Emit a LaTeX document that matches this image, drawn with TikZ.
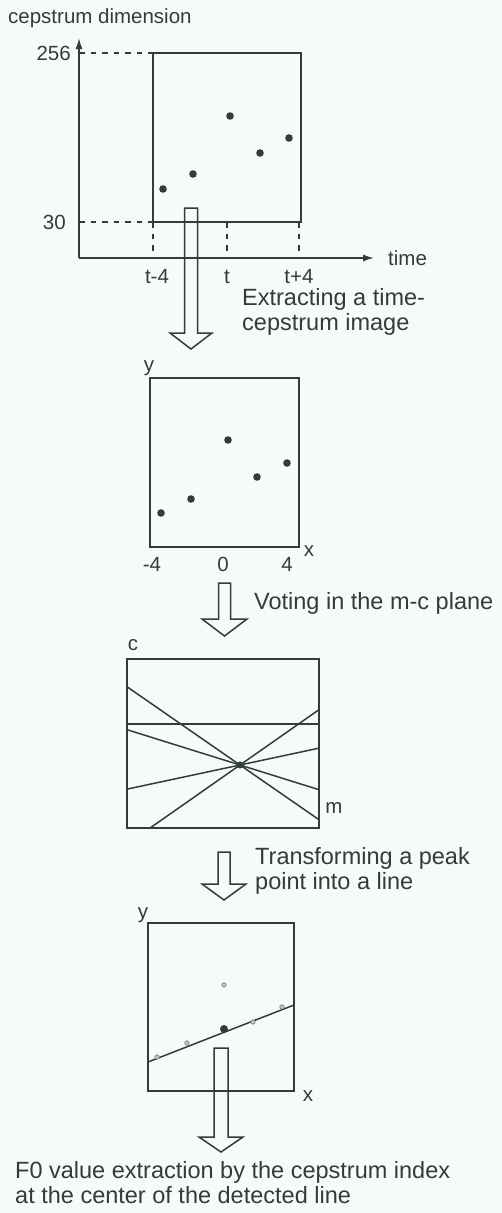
\documentclass[tikz,border=0pt]{standalone}
\usepackage{fontspec}
\setmainfont{Liberation Sans}
\usetikzlibrary{arrows.meta,calc}
\definecolor{ink}{RGB}{50,60,56}
\definecolor{paper}{RGB}{246,250,250}
\definecolor{pale}{RGB}{120,130,128}
\newcommand{\blkarrow}[6]{%
  \draw[blk] ({#1-#2},#3) -- ({#1+#2},#3) -- ({#1+#2},#4) -- ({#1+#5},#4) -- (#1,#6)
    -- ({#1-#5},#4) -- ({#1-#2},#4) -- cycle;}
\begin{document}
\begin{tikzpicture}[x=1bp,y=-1bp,
  ln/.style={draw=ink, line width=1.5bp},
  boxst/.style={draw=ink, line width=1.6bp},
  lbl/.style={text=ink, inner sep=0pt, font=\fontsize{23.5bp}{24bp}\selectfont},
  ax/.style={text=ink, inner sep=0pt, font=\fontsize{20.5bp}{21bp}\selectfont},
  dsh/.style={draw=ink, line width=1.3bp, dash pattern=on 5.5bp off 6bp},
  blk/.style={draw=ink, line width=1.5bp, line join=miter},
  smalldot/.style={draw=pale, fill=pale!45, line width=0.7bp}]
\fill[paper] (0,0) rectangle (502,1213);
\useasboundingbox (0,0) rectangle (502,1213);

% ---------- panel 1 ----------
\node[ax, anchor=base west] (cdim) at (8,23) {cepstrum dimension};
\coordinate (O1) at (79,258);
\coordinate (ytip) at (79,38);
\coordinate (xtip) at (374,258);
\draw[ln, -{Latex[length=11bp,width=7bp]}] (O1) -- (ytip);
\draw[ln, -{Latex[length=11bp,width=7bp]}] (O1) -- (xtip);
\coordinate (w1tl) at (153,53);
\coordinate (w1br) at (301,222);
\draw[boxst] (w1tl) rectangle (w1br);
\coordinate (a256) at (79,53);
\coordinate (a30) at (79,222);
\draw[dsh] (a256) -- (w1tl);
\draw[dsh] (a30) -- (153,222);
\node[ax, anchor=east] (l256) at (71,53) {256};
\node[ax, anchor=east] (l30) at (66,222) {30};
\node[ax, anchor=west] (ltime) at (388,258) {time};
\draw[dsh] (153,222) -- (153,258);
\draw[dsh] (227,222) -- (227,258);
\draw[dsh] (299,222) -- (299,258);
\node[ax, anchor=base] (tm4) at (157,283) {t-4};
\node[ax, anchor=base] (t0) at (227,283) {t};
\node[ax, anchor=base] (tp4) at (299,283) {t+4};
\foreach \p in {(163,189),(193,174),(230,116),(260,153),(289,138)}
  \fill[ink] \p circle[radius=3.8bp];

% arrow 1
\blkarrow{191}{6.5}{208}{333}{21}{349}
\node[lbl, anchor=base west] (ext1) at (242,305) {Extracting a time-};
\node[lbl, anchor=base west] (ext2) at (242,330) {cepstrum image};

% ---------- panel 2 ----------
\draw[boxst] (150,378) rectangle (299,547);
\node[ax, anchor=base] (y2) at (149,371) {y};
\node[ax, anchor=base] (x2) at (309,556) {x};
\node[ax, anchor=base] (m4) at (152,571) {-4};
\node[ax, anchor=base] (z0) at (223,571) {0};
\node[ax, anchor=base] (p4) at (287,571) {4};
\foreach \p in {(161,513),(191,499),(228,440),(257,477),(287,463)}
  \fill[ink] \p circle[radius=3.8bp];

% arrow 2
\blkarrow{224.5}{6}{583}{619}{22.5}{636}
\node[lbl, anchor=base west] (vot) at (254,609) {Voting in the m-c plane};

% ---------- panel 3 ----------
\coordinate (C) at (240,765);
\node[ax, anchor=base] (lc) at (133,650) {c};
\node[ax, anchor=base] (lm) at (334,813) {m};
\begin{scope}
  \clip (127,659) rectangle (319,828);
  \draw[ln] (127,724) -- (319,724);
  \draw[ln] ($(C)+(-200,-138.5)$) -- ($(C)+(200,138.5)$);
  \draw[ln] ($(C)+(-200,-62.5)$) -- ($(C)+(200,62.5)$);
  \draw[ln] ($(C)+(-200,42.7)$) -- ($(C)+(200,-42.7)$);
  \draw[ln] ($(C)+(-200,140.1)$) -- ($(C)+(200,-140.1)$);
\end{scope}
\draw[boxst] (127,659) rectangle (319,828);
\fill[ink] (C) circle[radius=3.5bp];

% arrow 3
\blkarrow{224}{6}{852}{884}{22}{900}
\node[lbl, anchor=base west] (tr1) at (255,864) {Transforming a peak};
\node[lbl, anchor=base west] (tr2) at (255,889) {point into a line};

% ---------- panel 4 ----------
\draw[boxst] (148,923) rectangle (294,1091);
\node[ax, anchor=base] (y4) at (143,918) {y};
\node[ax, anchor=base] (x4) at (308,1101) {x};
\coordinate (L1) at (148,1062);
\coordinate (L2) at (294,1005);
\draw[ln] (L1) -- (L2);
\foreach \p in {(157,1057),(187,1043),(253,1022),(282,1007),(224,985)}
  \draw[smalldot] \p circle[radius=2.2bp];
\fill[ink] (224,1029) circle[radius=4bp];

% arrow 4
\blkarrow{221}{7}{1048}{1137}{22}{1152}
\node[lbl, anchor=base west] (f1) at (15,1178) {F0 value extraction by the cepstrum index};
\node[lbl, anchor=base west] (f2) at (15,1203) {at the center of the detected line};
\end{tikzpicture}
\end{document}
